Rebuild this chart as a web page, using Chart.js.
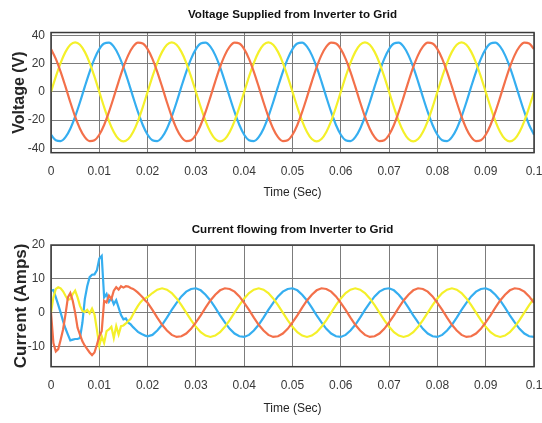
<!DOCTYPE html>
<html>
<head>
<meta charset="utf-8">
<script src="https://cdn.jsdelivr.net/npm/chart.js@4.4.1/dist/chart.umd.min.js"></script>
<style>
  html, body { margin: 0; padding: 0; background: #ffffff; }
  #wrap { position: relative; width: 542px; height: 423px; overflow: hidden; }
  #c1 { position: absolute; left: 0; top: 0; }
  #c2 { position: absolute; left: 0; top: 210px; }
</style>
</head>
<body>
<div id="wrap">
  <canvas id="c1" width="542" height="210"></canvas>
  <canvas id="c2" width="542" height="213"></canvas>
</div>
<script>
// ---------- DATA ----------
const voltageTitle = "Voltage Supplied from Inverter to Grid";
const currentTitle = "Current flowing from Inverter to Grid";
const xAxisTitle = "Time (Sec)";
const voltageAxisTitle = "Voltage (V)";
const currentAxisTitle = "Current (Amps)";

const xTickValues = [0, 0.01, 0.02, 0.03, 0.04, 0.05, 0.06, 0.07, 0.08, 0.09, 0.1];
const xTickLabels = ["0", "0.01", "0.02", "0.03", "0.04", "0.05", "0.06", "0.07", "0.08", "0.09", "0.1"];
const voltageTickValues = [-40, -20, 0, 20, 40];
const voltageTickLabels = ["-40", "-20", "0", "20", "40"];
const currentTickValues = [-10, 0, 10, 20];
const currentTickLabels = ["-10", "0", "10", "20"];

// sample times for the voltage plot (s)
const timeV = [0,0.001,0.002,0.003,0.004,0.005,0.006,0.007,0.008,0.009,
  0.01,0.011,0.012,0.013,0.014,0.015,0.016,0.017,0.018,0.019,
  0.02,0.021,0.022,0.023,0.024,0.025,0.026,0.027,0.028,0.029,
  0.03,0.031,0.032,0.033,0.034,0.035,0.036,0.037,0.038,0.039,
  0.04,0.041,0.042,0.043,0.044,0.045,0.046,0.047,0.048,0.049,
  0.05,0.051,0.052,0.053,0.054,0.055,0.056,0.057,0.058,0.059,
  0.06,0.061,0.062,0.063,0.064,0.065,0.066,0.067,0.068,0.069,
  0.07,0.071,0.072,0.073,0.074,0.075,0.076,0.077,0.078,0.079,
  0.08,0.081,0.082,0.083,0.084,0.085,0.086,0.087,0.088,0.089,
  0.09,0.091,0.092,0.093,0.094,0.095,0.096,0.097,0.098,0.099,0.1];

const voltageYellow = [0,10.8,20.6,28.3,33.3,35,33.3,28.3,20.6,10.8,0,-10.8,-20.6,-28.3,-33.3,-35,-33.3,-28.3,-20.6,-10.8,
  0,10.8,20.6,28.3,33.3,35,33.3,28.3,20.6,10.8,0,-10.8,-20.6,-28.3,-33.3,-35,-33.3,-28.3,-20.6,-10.8,
  0,10.8,20.6,28.3,33.3,35,33.3,28.3,20.6,10.8,0,-10.8,-20.6,-28.3,-33.3,-35,-33.3,-28.3,-20.6,-10.8,
  0,10.8,20.6,28.3,33.3,35,33.3,28.3,20.6,10.8,0,-10.8,-20.6,-28.3,-33.3,-35,-33.3,-28.3,-20.6,-10.8,
  0,10.8,20.6,28.3,33.3,35,33.3,28.3,20.6,10.8,0,-10.8,-20.6,-28.3,-33.3,-35,-33.3,-28.3,-20.6,-10.8,0];

const voltageBlue = [-30.3,-34.2,-34.8,-32,-26,-17.5,-7.3,3.7,14.2,23.4,30.3,34.2,34.8,32,26,17.5,7.3,-3.7,-14.2,-23.4,
  -30.3,-34.2,-34.8,-32,-26,-17.5,-7.3,3.7,14.2,23.4,30.3,34.2,34.8,32,26,17.5,7.3,-3.7,-14.2,-23.4,
  -30.3,-34.2,-34.8,-32,-26,-17.5,-7.3,3.7,14.2,23.4,30.3,34.2,34.8,32,26,17.5,7.3,-3.7,-14.2,-23.4,
  -30.3,-34.2,-34.8,-32,-26,-17.5,-7.3,3.7,14.2,23.4,30.3,34.2,34.8,32,26,17.5,7.3,-3.7,-14.2,-23.4,
  -30.3,-34.2,-34.8,-32,-26,-17.5,-7.3,3.7,14.2,23.4,30.3,34.2,34.8,32,26,17.5,7.3,-3.7,-14.2,-23.4,-30.3];

const voltageOrange = [30.3,23.4,14.2,3.7,-7.3,-17.5,-26,-32,-34.8,-34.2,-30.3,-23.4,-14.2,-3.7,7.3,17.5,26,32,34.8,34.2,
  30.3,23.4,14.2,3.7,-7.3,-17.5,-26,-32,-34.8,-34.2,-30.3,-23.4,-14.2,-3.7,7.3,17.5,26,32,34.8,34.2,
  30.3,23.4,14.2,3.7,-7.3,-17.5,-26,-32,-34.8,-34.2,-30.3,-23.4,-14.2,-3.7,7.3,17.5,26,32,34.8,34.2,
  30.3,23.4,14.2,3.7,-7.3,-17.5,-26,-32,-34.8,-34.2,-30.3,-23.4,-14.2,-3.7,7.3,17.5,26,32,34.8,34.2,
  30.3,23.4,14.2,3.7,-7.3,-17.5,-26,-32,-34.8,-34.2,-30.3,-23.4,-14.2,-3.7,7.3,17.5,26,32,34.8,34.2,30.3];

// sample times for the current plot (s): finer in the start-up transient
const timeI = [0,0.0005,0.001,0.0015,0.002,0.0025,0.003,0.0035,0.004,0.0045,
  0.005,0.0055,0.006,0.0065,0.007,0.0075,0.008,0.0085,0.009,0.0095,
  0.01,0.0105,0.011,0.0115,0.012,0.0125,0.013,0.0135,0.014,0.0145,
  0.015,0.0155,0.016,0.0165,0.017,0.0175,0.018,0.0185,0.019,0.0195,0.02,
  0.021,0.022,0.023,0.024,0.025,0.026,0.027,0.028,0.029,0.03,
  0.031,0.032,0.033,0.034,0.035,0.036,0.037,0.038,0.039,0.04,
  0.041,0.042,0.043,0.044,0.045,0.046,0.047,0.048,0.049,0.05,
  0.051,0.052,0.053,0.054,0.055,0.056,0.057,0.058,0.059,0.06,
  0.061,0.062,0.063,0.064,0.065,0.066,0.067,0.068,0.069,0.07,
  0.071,0.072,0.073,0.074,0.075,0.076,0.077,0.078,0.079,0.08,
  0.081,0.082,0.083,0.084,0.085,0.086,0.087,0.088,0.089,0.09,
  0.091,0.092,0.093,0.094,0.095,0.096,0.097,0.098,0.099,0.1];

const currentYellow = [0,4.5,7,7.5,7.2,6.3,5,3.8,4,5.5,
  6.5,4.5,2,0.5,0.2,0.8,-0.2,1.2,-0.5,-5,
  -9.8,-7,-9,-5.5,-5,-4.2,-7.5,-4,-6.5,-4,
  -3.8,-3.2,-2.5,-1.8,-0.5,0.8,2,3,3.8,4.2,4.6,
  5.8,6.8,7.2,6.8,5.8,4.2,2.2,0,-2.2,-4.2,-5.8,-6.8,-7.2,-6.8,-5.8,-4.2,-2.2,0,2.2,4.2,
  5.8,6.8,7.2,6.8,5.8,4.2,2.2,0,-2.2,-4.2,-5.8,-6.8,-7.2,-6.8,-5.8,-4.2,-2.2,0,2.2,4.2,
  5.8,6.8,7.2,6.8,5.8,4.2,2.2,0,-2.2,-4.2,-5.8,-6.8,-7.2,-6.8,-5.8,-4.2,-2.2,0,2.2,4.2,
  5.8,6.8,7.2,6.8,5.8,4.2,2.2,0,-2.2,-4.2,-5.8,-6.8,-7.2,-6.8,-5.8,-4.2,-2.2,0,2.2,4.2];

const currentBlue = [6.5,6.7,4.5,2.3,0,-2.5,-4.7,-6.5,-8.2,-8,
  -7.8,-7.8,-7.5,-3,4,7.8,10.5,11.2,11.3,12.5,
  16,16.8,4.5,5.5,3.2,4.3,2.5,3.7,1.5,-0.7,
  -2,-1.7,-3,-3.5,-4.3,-5,-5.7,-6.1,-6.5,-6.8,-7,
  -6.6,-5.3,-3.6,-1.5,0.8,2.9,4.8,6.2,7,7.2,6.6,5.3,3.6,1.5,-0.8,-2.9,-4.8,-6.2,-7,-7.2,
  -6.6,-5.3,-3.6,-1.5,0.8,2.9,4.8,6.2,7,7.2,6.6,5.3,3.6,1.5,-0.8,-2.9,-4.8,-6.2,-7,-7.2,
  -6.6,-5.3,-3.6,-1.5,0.8,2.9,4.8,6.2,7,7.2,6.6,5.3,3.6,1.5,-0.8,-2.9,-4.8,-6.2,-7,-7.2,
  -6.6,-5.3,-3.6,-1.5,0.8,2.9,4.8,6.2,7,7.2,6.6,5.3,3.6,1.5,-0.8,-2.9,-4.8,-6.2,-7,-7.2];

const currentOrange = [0,-9,-11.5,-10.8,-8,-5,-0.5,4.5,5.8,3.5,
  0,-4.5,-6.5,-8.5,-9.8,-10.8,-11.8,-12.6,-11.8,-9.5,
  -7,-5.5,3.5,3,5,4,6.5,7.5,6.8,7.8,
  7.4,7.8,7.7,7.3,7,6.5,5.9,5.2,4.5,3.6,2.9,
  0.8,-1.5,-3.6,-5.3,-6.6,-7.2,-7,-6.2,-4.8,-2.9,-0.8,1.5,3.6,5.3,6.6,7.2,7,6.2,4.8,2.9,
  0.8,-1.5,-3.6,-5.3,-6.6,-7.2,-7,-6.2,-4.8,-2.9,-0.8,1.5,3.6,5.3,6.6,7.2,7,6.2,4.8,2.9,
  0.8,-1.5,-3.6,-5.3,-6.6,-7.2,-7,-6.2,-4.8,-2.9,-0.8,1.5,3.6,5.3,6.6,7.2,7,6.2,4.8,2.9,
  0.8,-1.5,-3.6,-5.3,-6.6,-7.2,-7,-6.2,-4.8,-2.9,-0.8,1.5,3.6,5.3,6.6,7.2,7,6.2,4.8,2.9];

// ---------- STYLE ----------
const COLORS = { yellow: '#f4f02a', blue: '#35aef0', orange: '#f3704a' };
const FONT = "'Liberation Sans', Arial, Helvetica, sans-serif";
const GRID = '#7c7c7c';

const framePlugin = {
  id: 'frame',
  afterDatasetsDraw(chart) {
    const { ctx, chartArea: a } = chart;
    ctx.save();
    ctx.strokeStyle = '#3a3a3a';
    ctx.lineWidth = 1.5;
    ctx.strokeRect(a.left, a.top, a.right - a.left, a.bottom - a.top);
    ctx.restore();
  }
};

function pts(times, vals) { return times.map((t, i) => ({ x: t, y: vals[i] })); }

function makeChart(canvasId, cfg) {
  const ds = (vals, times, color, smooth) => ({
    data: pts(times, vals),
    borderColor: color,
    backgroundColor: color,
    borderWidth: 2.2,
    pointRadius: 0,
    fill: false,
    tension: smooth ? 0.4 : 0,
    cubicInterpolationMode: smooth ? 'monotone' : 'default'
  });
  return new Chart(document.getElementById(canvasId), {
    type: 'line',
    data: {
      datasets: [
        ds(cfg.orange, cfg.times, COLORS.orange, cfg.smooth),
        ds(cfg.yellow, cfg.times, COLORS.yellow, cfg.smooth),
        ds(cfg.blue, cfg.times, COLORS.blue, cfg.smooth)
      ]
    },
    options: {
      responsive: false,
      animation: false,
      events: [],
      layout: { padding: { left: 0, right: 8, top: 0, bottom: 0 } },
      plugins: {
        legend: { display: false },
        tooltip: { enabled: false },
        title: {
          display: true,
          fullSize: false,
          text: cfg.title,
          color: '#111111',
          font: { family: FONT, size: 11.6, weight: 'bold' },
          padding: cfg.titlePad
        }
      },
      scales: {
        x: {
          type: 'linear',
          min: 0, max: 0.1,
          afterBuildTicks: s => { s.ticks = xTickValues.map(v => ({ value: v })); },
          afterFit: s => { s.height = cfg.xAxisHeight; s.paddingLeft = 0; s.paddingRight = 0; },
          ticks: {
            autoSkip: false, maxRotation: 0,
            padding: 11.8,
            color: '#383838',
            font: { family: FONT, size: 12 },
            callback: (v, i) => xTickLabels[i]
          },
          grid: { color: GRID, lineWidth: 1, drawTicks: false },
          border: { display: false },
          title: {
            display: true, text: xAxisTitle, color: '#262626',
            font: { family: FONT, size: 12 },
            padding: { top: 0, bottom: cfg.xTitlePad }
          }
        },
        y: {
          type: 'linear',
          min: cfg.yMin, max: cfg.yMax,
          afterBuildTicks: s => { s.ticks = cfg.yTicks.map(v => ({ value: v })); },
          afterFit: s => { s.width = 51; },
          ticks: {
            padding: 6,
            color: '#383838',
            font: { family: FONT, size: 12 },
            callback: (v, i) => cfg.yLabels[i]
          },
          grid: { color: GRID, lineWidth: 1, drawTicks: false },
          border: { display: false },
          title: {
            display: true, text: cfg.yTitle, color: '#262626',
            font: { family: FONT, size: cfg.yTitleSize, weight: 'bold' },
            padding: { top: cfg.yTitlePadTop, bottom: 0 }
          }
        }
      }
    },
    plugins: [framePlugin]
  });
}

makeChart('c1', {
  title: voltageTitle, yTitle: voltageAxisTitle,
  times: timeV, yellow: voltageYellow, blue: voltageBlue, orange: voltageOrange,
  smooth: true,
  yMin: -43, yMax: 42, yTicks: voltageTickValues, yLabels: voltageTickLabels,
  titlePad: { top: 8.0, bottom: 10.6 },
  xAxisHeight: 57.3, xTitlePad: 10.3,
  yTitleSize: 16, yTitlePadTop: 10.4
});

makeChart('c2', {
  title: currentTitle, yTitle: currentAxisTitle,
  times: timeI, yellow: currentYellow, blue: currentBlue, orange: currentOrange,
  smooth: false,
  yMin: -16, yMax: 20, yTicks: currentTickValues, yLabels: currentTickLabels,
  titlePad: { top: 13.0, bottom: 8.1 },
  xAxisHeight: 56.3, xTitlePad: 7.3,
  yTitleSize: 17, yTitlePadTop: 10.8
});
</script>
</body>
</html>
